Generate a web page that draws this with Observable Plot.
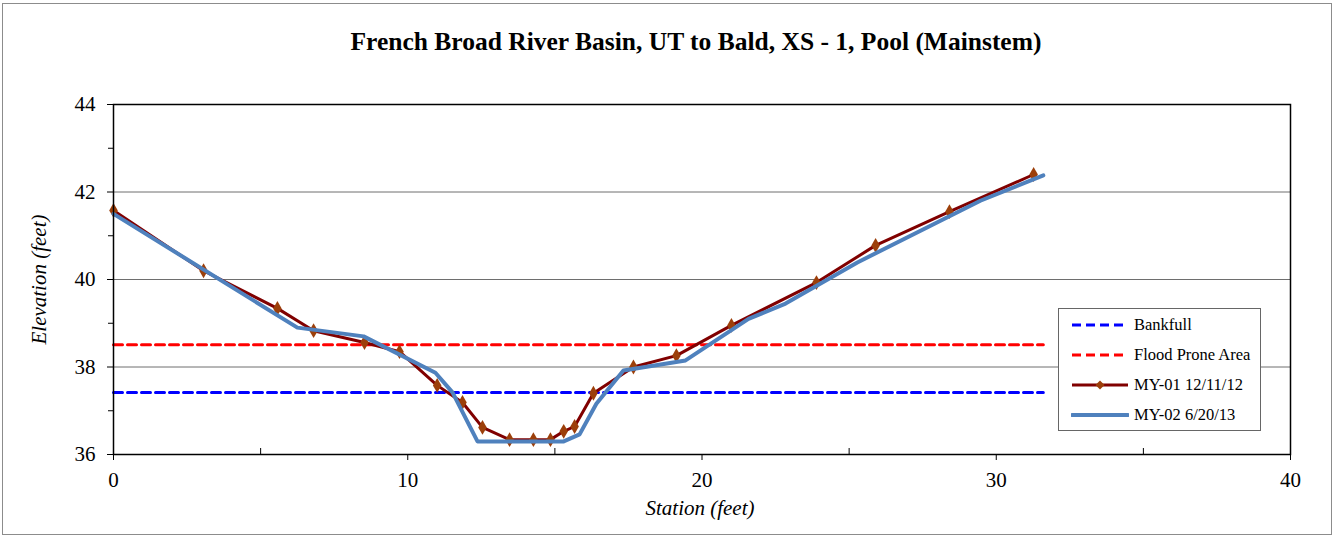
<!DOCTYPE html>
<html>
<head>
<meta charset="utf-8">
<script src="https://cdn.jsdelivr.net/npm/d3@7"></script>
<script src="https://cdn.jsdelivr.net/npm/@observablehq/plot@0.6"></script>
<style>
  html, body { margin: 0; padding: 0; background: #fff; }
  #wrap { position: relative; width: 1335px; height: 539px; font-family: "Liberation Serif", "Times New Roman", serif; }
  #chart svg, #chart svg text { font-family: "Liberation Serif", "Times New Roman", serif !important; }
  #border { position: absolute; left: 2px; top: 3px; width: 1330px; height: 532px; border: 1px solid #8c8c8c; box-sizing: border-box; pointer-events: none; }
  #title { position: absolute; left: 0; width: 1392px; top: 27px; text-align: center; font-weight: bold; font-size: 25.5px; color: #000; }
  #legend { position: absolute; left: 1058px; top: 308px; width: 203px; height: 123px; border: 1px solid #666; box-sizing: border-box; background: #fff; }
  .item { position: absolute; left: 12px; height: 20px; display: flex; align-items: center; font-size: 16.5px; color: #000; }
  .item svg { margin-right: 5px; }
</style>
</head>
<body>
<div id="wrap">
  <div id="chart"></div>
  <div id="title"></div>
  <div id="legend"></div>
  <div id="border"></div>
</div>
<script>
const titleText = "French Broad River Basin, UT to Bald, XS - 1, Pool (Mainstem)";
const xLabel = "Station (feet)";
const yLabel = "Elevation (feet)";
const xTicks = [0, 10, 20, 30, 40];
const xMinorTicks = [5, 15, 25, 35];
const yTicks = [36, 38, 40, 42, 44];
const yMinorTicks = [37, 39, 41, 43];
const gridValues = [38, 40, 42];

const seriesNames = ["Bankfull", "Flood Prone Area", "MY-01 12/11/12", "MY-02 6/20/13"];
const seriesColors = ["#0000ff", "#ff0000", "#800000", "#4f81bd"];
const markerColor = "#9c3f0a";

const refX = [0, 31.6];
const bankfullElev = 37.42;
const floodElev = 38.51;

const my01X = [0, 3.06, 5.57, 6.8, 8.53, 9.72, 11.0, 11.86, 12.54, 13.46, 14.27, 14.85, 15.3, 15.67, 16.31, 17.67, 19.13, 21.0, 23.89, 25.9, 28.41, 31.27];
const my01Y = [41.58, 40.2, 39.34, 38.83, 38.56, 38.35, 37.58, 37.19, 36.62, 36.34, 36.34, 36.34, 36.53, 36.64, 37.4, 38.0, 38.26, 38.95, 39.93, 40.78, 41.55, 42.4];

const my02X = [0, 6.25, 8.5, 10.94, 11.52, 12.37, 15.3, 15.84, 16.41, 17.33, 19.44, 21.58, 22.84, 25.28, 29.46, 31.6];
const my02Y = [41.5, 38.9, 38.7, 37.87, 37.42, 36.3, 36.3, 36.46, 37.16, 37.92, 38.15, 39.1, 39.45, 40.39, 41.8, 42.38];

const bankfull = refX.map(x => ({x, y: bankfullElev}));
const flood = refX.map(x => ({x, y: floodElev}));
const my01 = my01X.map((x, i) => ({x, y: my01Y[i]}));
const my02 = my02X.map((x, i) => ({x, y: my02Y[i]}));

const font = "Liberation Serif";

const chart = Plot.plot({
  width: 1335,
  height: 539,
  marginLeft: 113,
  marginRight: 45,
  marginTop: 104,
  marginBottom: 85,
  style: {fontFamily: font, background: "transparent", overflow: "visible"},
  x: {domain: [0, 40]},
  y: {domain: [36, 44]},
  marks: [
    Plot.gridY(gridValues, {stroke: "#6e6e6e", strokeOpacity: 1, strokeWidth: 1}),
    Plot.tickX(xMinorTicks, {stroke: "#000", strokeWidth: 1, insetTop: 344}),
    Plot.axisY(yTicks, {tickSize: 6, tickPadding: 12, fontSize: 21, fontFamily: font, fill: "#000", stroke: "#000", label: null}),
    Plot.axisY(yMinorTicks, {tickSize: 5, tickFormat: () => "", stroke: "#000", label: null}),
    Plot.axisX(xTicks, {tickSize: 6, tickPadding: 12, fontSize: 21, fontFamily: font, fill: "#000", stroke: "#000", label: null}),
    Plot.line(bankfull, {x: "x", y: "y", stroke: seriesColors[0], strokeWidth: 3, strokeDasharray: "9,5"}),
    Plot.line(flood, {x: "x", y: "y", stroke: seriesColors[1], strokeWidth: 3, strokeDasharray: "9,5"}),
    Plot.line(my01, {x: "x", y: "y", stroke: seriesColors[2], strokeWidth: 3}),
    Plot.dot(my01, {x: "x", y: "y", symbol: "diamond", r: 4.5, fill: markerColor, stroke: null}),
    Plot.line(my02, {x: "x", y: "y", stroke: seriesColors[3], strokeWidth: 4}),
    Plot.frame({stroke: "#000", strokeWidth: 1.5}),
    Plot.text([yLabel], {frameAnchor: "left", textAnchor: "middle", dx: -74, rotate: -90, fontSize: 21, fontFamily: font, fontStyle: "italic", fill: "#000"}),
    Plot.text([xLabel], {frameAnchor: "bottom", textAnchor: "middle", dx: -2, dy: 60, fontSize: 21, fontFamily: font, fontStyle: "italic", fill: "#000"})
  ]
});
document.getElementById("chart").appendChild(chart);
document.getElementById("title").textContent = titleText;

const legend = document.getElementById("legend");
const tops = [6, 36, 66, 96];
seriesNames.forEach((name, i) => {
  const item = document.createElement("div");
  item.className = "item";
  item.style.top = tops[i] + "px";
  let svg = `<svg width="58" height="12">`;
  if (i < 2) svg += `<line x1="1" x2="57" y1="6" y2="6" stroke="${seriesColors[i]}" stroke-width="3" stroke-dasharray="9,5"/>`;
  else if (i === 2) svg += `<line x1="1" x2="57" y1="6" y2="6" stroke="${seriesColors[i]}" stroke-width="3"/><path d="M29,1.5L33.5,6L29,10.5L24.5,6Z" fill="${markerColor}"/>`;
  else svg += `<line x1="1" x2="57" y1="6" y2="6" stroke="${seriesColors[i]}" stroke-width="4" stroke-linecap="round"/>`;
  svg += `</svg>`;
  item.innerHTML = svg + `<span>${name}</span>`;
  legend.appendChild(item);
});
</script>
</body>
</html>
